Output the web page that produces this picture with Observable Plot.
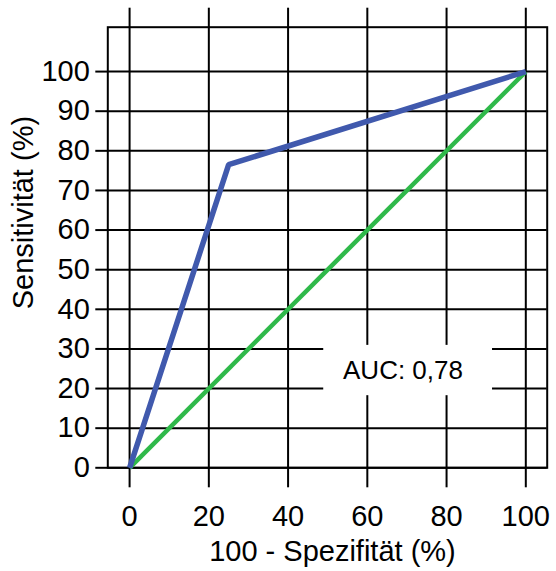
<!DOCTYPE html>
<html><head><meta charset="utf-8">
<script src="https://cdn.jsdelivr.net/npm/d3@7"></script>
<script src="https://cdn.jsdelivr.net/npm/@observablehq/plot@0.6"></script>
<style>body{margin:0;background:#fff} svg{display:block}</style>
</head><body><div id="chart"></div>
<script>
const rocX = [0, 25, 100];
const rocY = [0, 76.5, 100];
const refX = [0, 100];
const refY = [0, 100];
const xTicks = [0, 20, 40, 60, 80, 100];
const yTicks = [0, 10, 20, 30, 40, 50, 60, 70, 80, 90, 100];
const xTitle = "100 - Spezifität (%)";
const yTitle = "Sensitivität (%)";
const aucText = "AUC: 0,78";

const roc = rocX.map((x, i) => ({x, y: rocY[i]}));
const ref = refX.map((x, i) => ({x, y: refY[i]}));

const font = "'Liberation Sans', Arial, Helvetica, sans-serif";
const chart = Plot.plot({
  width: 556, height: 571,
  marginLeft: 107.3, marginRight: 9.3, marginTop: 26.7, marginBottom: 103.7,
  style: {fontFamily: font, background: "#fff", color: "#000"},
  x: {domain: [-5.5, 105.4], label: null},
  y: {domain: [0, 111.2], label: null},
  marks: [
    Plot.gridX(xTicks, {stroke: "#000", strokeOpacity: 1, strokeWidth: 2}),
    Plot.gridY(yTicks, {stroke: "#000", strokeOpacity: 1, strokeWidth: 2}),
    Plot.axisX(xTicks, {anchor: "bottom", tickSize: 20, tickPadding: 18, fontSize: 29, strokeWidth: 2, label: null}),
    Plot.axisX(xTicks, {anchor: "top", tickSize: 20, tickFormat: () => "", strokeWidth: 2, label: null}),
    Plot.axisY(yTicks, {anchor: "left", tickSize: 12, tickPadding: 6, fontSize: 29, strokeWidth: 2, label: null}),
    Plot.frame({stroke: "#000", strokeWidth: 2}),
    Plot.rect([aucText], {x1: 49, x2: 91.6, y1: 18.2, y2: 30.9, fill: "#fff"}),
    Plot.text([aucText], {x: 69, y: 24.4, text: d => d, fontSize: 26, fill: "#000"}),
    Plot.line(ref, {x: "x", y: "y", stroke: "#2fb94a", strokeWidth: 4.5, strokeLinecap: "butt", strokeLinejoin: "miter"}),
    Plot.line(roc, {x: "x", y: "y", stroke: "#4059ad", strokeWidth: 5.5, strokeLinecap: "butt", strokeLinejoin: "miter"}),
    Plot.text([xTitle], {frameAnchor: "bottom", lineAnchor: "middle", x: 51.2, text: d => d, dy: 84, fontSize: 29, fill: "#000"}),
    Plot.text([yTitle], {frameAnchor: "left", lineAnchor: "middle", y: 40, text: d => d, rotate: -90, dx: -84, fontSize: 29, fill: "#000"})
  ]
});
document.getElementById("chart").appendChild(chart);
</script>
</body></html>
